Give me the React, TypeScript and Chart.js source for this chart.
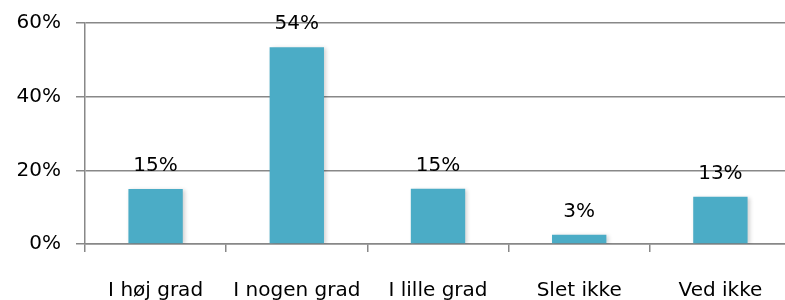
import React, { useEffect, useRef } from "react";
import { Chart, registerables } from "chart.js";

Chart.register(...registerables);

const categories = ["I høj grad", "I nogen grad", "I lille grad", "Slet ikke", "Ved ikke"];
const values = [14.9, 53.4, 15.0, 2.5, 12.8];
const valueLabels = ["15%", "54%", "15%", "3%", "13%"];
const yTicks = [0, 20, 40, 60];

const FONT = "'DejaVu Sans', 'Open Sans', sans-serif";
const FS = 20;
const BAR = "#4BACC6";
const GRID = "#888888";

const labelPlugin = {
  id: "valueLabels",
  beforeDatasetsDraw(chart: any) {
    const ctx = chart.ctx;
    ctx.save();
    ctx.shadowColor = "rgba(0,0,0,0.18)";
    ctx.shadowBlur = 4;
    ctx.shadowOffsetX = 2;
    ctx.shadowOffsetY = 1;
  },
  afterDatasetsDraw(chart: any) {
    const ctx = chart.ctx;
    ctx.restore();
    const meta = chart.getDatasetMeta(0);
    ctx.save();
    ctx.font = `${FS}px ${FONT}`;
    ctx.fillStyle = "#000";
    ctx.textAlign = "center";
    ctx.textBaseline = "alphabetic";
    meta.data.forEach((bar: any, i: number) => {
      ctx.fillText(valueLabels[i], bar.x, bar.y - 18);
    });
    ctx.restore();
  },
};

export default function App() {
  const ref = useRef<HTMLCanvasElement>(null);
  useEffect(() => {
    if (!ref.current) return;
    const chart = new Chart(ref.current, {
      type: "bar",
      data: {
        labels: categories,
        datasets: [
          {
            data: values,
            backgroundColor: BAR,
            borderWidth: 0,
            barPercentage: 0.385,
            categoryPercentage: 1,
          },
        ],
      },
      options: {
        animation: false,
        responsive: false,
        layout: { padding: { top: 23, right: 4, left: 0, bottom: 0 } },
        plugins: { legend: { display: false }, tooltip: { enabled: false } },
        scales: {
          x: {
            offset: true,
            grid: {
              offset: true,
              drawOnChartArea: false,
              drawTicks: true,
              tickLength: 8,
              color: GRID,
              lineWidth: 1.5,
            },
            border: { color: GRID, width: 1.5 },
            ticks: { color: "#000", font: { family: FONT, size: FS }, padding: 27, maxRotation: 0, autoSkip: false },
            afterFit(scale: any) {
              scale.height = 56;
            },
          },
          y: {
            min: 0,
            max: 60,
            afterBuildTicks(scale: any) {
              scale.ticks = yTicks.map((v) => ({ value: v }));
            },
            grid: { color: GRID, lineWidth: 1.5, tickLength: 9 },
            border: { color: GRID, width: 1.5 },
            ticks: {
              color: "#000",
              font: { family: FONT, size: FS },
              padding: 15,
              callback: (v: any) => `${v}%`,
            },
            afterFit(scale: any) {
              scale.width = 85;
              scale.paddingTop = 0;
              scale.paddingBottom = 0;
            },
          },
        },
      },
      plugins: [labelPlugin],
    });
    return () => chart.destroy();
  }, []);
  return (
    <div style={{ position: "fixed", left: 0, top: 0, width: 785, height: 300, overflow: "hidden", background: "#fff" }}>
      <canvas ref={ref} width={795} height={300} style={{ display: "block" }} />
    </div>
  );
}
